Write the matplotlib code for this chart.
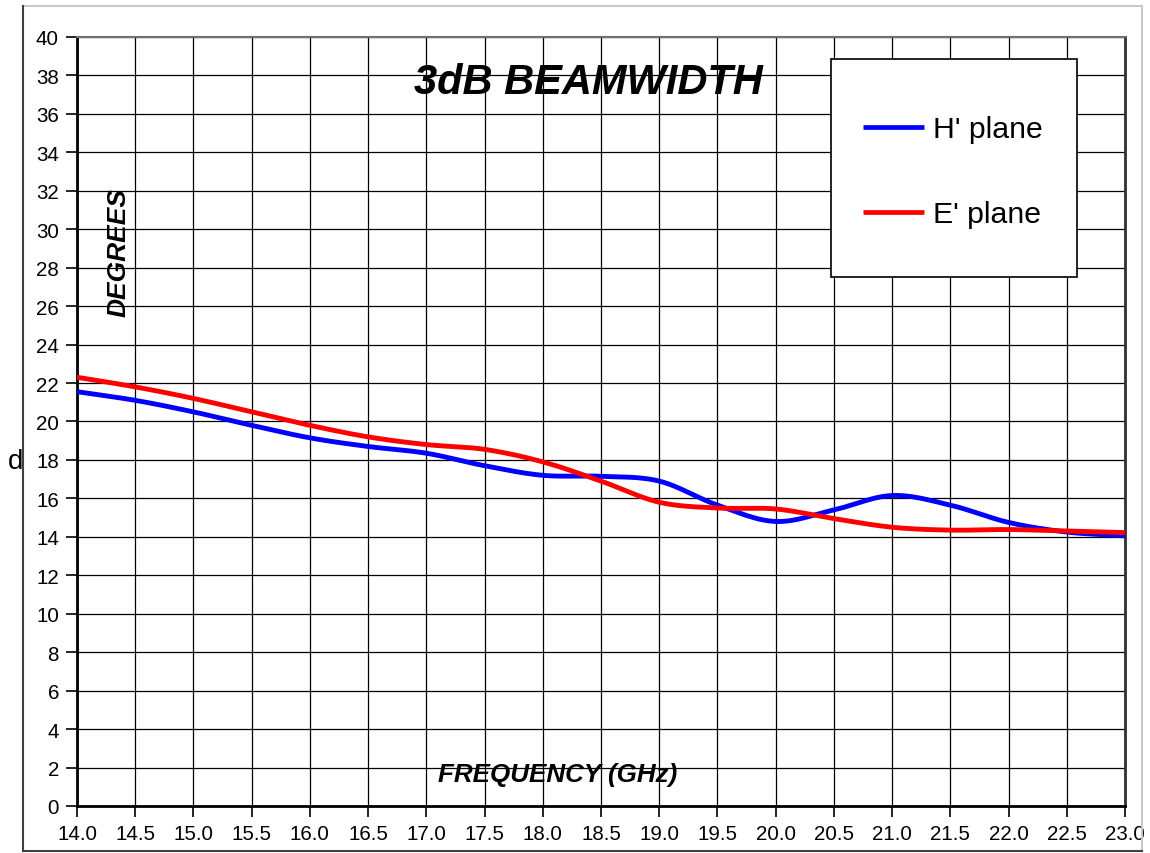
import numpy as np
import matplotlib.pyplot as plt
from matplotlib.patches import Rectangle
from matplotlib.lines import Line2D

# values (every 0.5 GHz)
freq = [14.0, 14.5, 15.0, 15.5, 16.0, 16.5, 17.0, 17.5, 18.0, 18.5,
        19.0, 19.5, 20.0, 20.5, 21.0, 21.5, 22.0, 22.5, 23.0]
h_plane = [21.55, 21.1, 20.5, 19.8, 19.15, 18.7, 18.35, 17.7, 17.2, 17.15,
           16.9, 15.65, 14.8, 15.4, 16.15, 15.65, 14.75, 14.25, 14.05]
e_plane = [22.3, 21.8, 21.2, 20.5, 19.8, 19.2, 18.8, 18.55, 17.9, 16.9,
           15.8, 15.5, 15.45, 14.95, 14.5, 14.35, 14.38, 14.3, 14.22]
series_labels = ["H' plane", "E' plane"]
series_colors = ["#0000ff", "#ff0000"]
xticks = np.arange(14.0, 23.01, 0.5)
yticks = np.arange(0, 41, 2)


def smooth(x, y, n=24):
    # Catmull-Rom curve through the points, like a spreadsheet "smoothed line"
    p = np.column_stack([x, y]).astype(float)
    p = np.vstack([2 * p[0] - p[1], p, 2 * p[-1] - p[-2]])
    t = np.linspace(0, 1, n, endpoint=False)[:, None]
    out = []
    for i in range(1, len(p) - 2):
        p0, p1, p2, p3 = p[i - 1], p[i], p[i + 1], p[i + 2]
        seg = 0.5 * ((2 * p1) + (-p0 + p2) * t
                     + (2 * p0 - 5 * p1 + 4 * p2 - p3) * t ** 2
                     + (-p0 + 3 * p1 - 3 * p2 + p3) * t ** 3)
        out.append(seg)
    out.append(p[-2][None, :])
    out = np.vstack(out)
    return out[:, 0], out[:, 1]


plt.rcParams['font.family'] = ['Liberation Sans', 'DejaVu Sans']

fig = plt.figure(figsize=(11.5, 8.54), dpi=100)
ax = fig.add_axes([0.06696, 0.05504, 0.9113, 0.90047])

for vals, lab, col in zip([h_plane, e_plane], series_labels, series_colors):
    sx, sy = smooth(freq, vals)
    ax.plot(sx, sy, color=col, lw=3.5, label=lab, zorder=4, solid_capstyle='butt')

ax.set_xlim(14.0, 23.0)
ax.set_ylim(0, 40)
ax.set_xticks(xticks)
ax.set_xticklabels([f"{v:.1f}" for v in xticks])
ax.set_yticks(yticks)
ax.grid(True, color='black', lw=0.9, zorder=1)
ax.set_axisbelow(True)
ax.tick_params(direction='out', length=8, width=1.2, labelsize=14.8, pad=5)

for side in ['left', 'bottom']:
    ax.spines[side].set_linewidth(2)
    ax.spines[side].set_color('black')
ax.spines['right'].set_linewidth(2)
ax.spines['right'].set_color('#303030')
ax.spines['top'].set_linewidth(1.5)
ax.spines['top'].set_color('#707070')

# legend box
ax.add_patch(Rectangle((0.7195, 0.688), 0.2348, 0.2835, transform=ax.transAxes,
                       facecolor='white', edgecolor='black', lw=1.2, zorder=5))
leg = ax.legend(loc='upper left', bbox_to_anchor=(0.7358, 0.918), frameon=False,
                fontsize=21.8, handlelength=2.0, handletextpad=0.3,
                labelspacing=1.88, borderpad=0)
leg.set_zorder(6)
for h in leg.get_lines():
    h.set_linewidth(3.4)

bi = dict(fontweight='bold', fontstyle='italic', color='black', zorder=7)
ax.text(0.4876, 0.9415, '3dB BEAMWIDTH', transform=ax.transAxes,
        ha='center', va='center', fontsize=30, **bi)
ax.text(0.040, 0.7217, 'DEGREES', transform=ax.transAxes, rotation=90,
        ha='center', va='center', fontsize=19, **bi)
ax.text(0.459, 0.0416, 'FREQUENCY (GHz)', transform=ax.transAxes,
        ha='center', va='center', fontsize=18.7, **bi)
fig.text(0.0135, 0.459, 'd', ha='center', va='center', fontsize=20)

# outer chart frame
fw = fig.transFigure
x0, x1 = 23 / 1150, 1142 / 1150
y0, y1 = 1 - 852 / 854, 1 - 7 / 854
fig.add_artist(Line2D([x0, x1], [y1, y1], transform=fw, color='#c8c8c8', lw=1.5))
fig.add_artist(Line2D([x1, x1], [y0, y1], transform=fw, color='#c8c8c8', lw=1.5))
fig.add_artist(Line2D([x0, x0], [y0, y1], transform=fw, color='#404040', lw=1.5))
fig.add_artist(Line2D([x0, x1], [y0, y0], transform=fw, color='#404040', lw=1.5))

fig.savefig('out.png', dpi=100)
